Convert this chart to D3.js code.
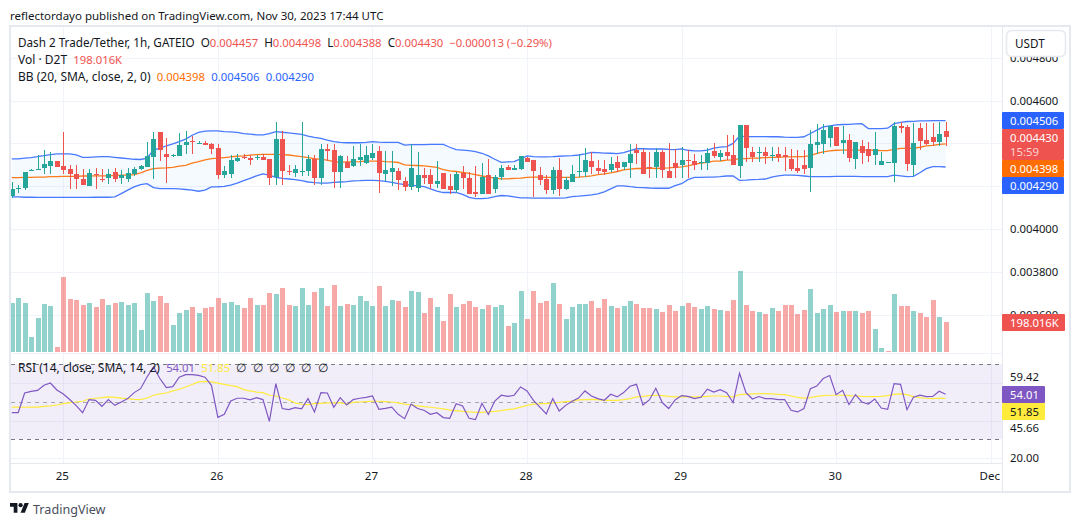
<!DOCTYPE html>
<html><head><meta charset="utf-8">
<script src="https://cdnjs.cloudflare.com/ajax/libs/d3/7.8.5/d3.min.js"></script>
<style>html,body{margin:0;padding:0;background:#fff;overflow:hidden}svg{display:block}text{font-family:"Noto Sans",sans-serif}</style>
</head><body><svg id="c" width="1080" height="527"></svg>
<script>
// prices are in millionths of USDT
const opens=[4154,4187,4191,4274,4278,4283,4295,4318,4295,4282,4258,4235,4203,4258,4235,4241,4268,4240,4235,4258,4282,4291,4337,4452,4351,4343,4342,4392,4411,4398,4402,4397,4378,4254,4258,4318,4337,4332,4332,4337,4328,4245,4420,4272,4263,4269,4272,4328,4240,4374,4369,4268,4314,4295,4323,4309,4332,4365,4258,4268,4272,4226,4198,4194,4254,4254,4212,4263,4203,4185,4263,4240,4175,4162,4254,4189,4245,4291,4277,4282,4332,4323,4254,4235,4185,4277,4189,4222,4269,4268,4318,4286,4282,4277,4314,4291,4309,4369,4360,4291,4291,4360,4272,4309,4300,4323,4318,4308,4309,4365,4337,4360,4346,4295,4485,4360,4354,4360,4343,4351,4346,4328,4286,4300,4286,4392,4397,4425,4475,4402,4415,4328,4388,4374,4346,4300,4311,4309,4480,4475,4300,4471,4415,4429,4406,4457];
const highs=[4222,4208,4268,4282,4346,4369,4360,4318,4452,4297,4300,4282,4282,4285,4280,4282,4285,4277,4286,4292,4300,4406,4452,4452,4425,4351,4448,4457,4434,4411,4411,4402,4397,4295,4346,4351,4351,4346,4346,4351,4328,4498,4457,4300,4300,4498,4346,4346,4397,4397,4397,4346,4342,4388,4397,4388,4397,4388,4365,4365,4286,4245,4397,4360,4286,4282,4318,4263,4258,4268,4295,4268,4295,4309,4328,4254,4300,4300,4300,4342,4337,4323,4291,4254,4291,4332,4245,4300,4351,4378,4360,4323,4323,4337,4342,4314,4397,4397,4374,4360,4378,4369,4402,4374,4383,4369,4351,4346,4378,4402,4369,4438,4438,4485,4485,4383,4383,4383,4383,4383,4383,4374,4369,4369,4462,4489,4489,4485,4475,4480,4443,4406,4415,4406,4452,4360,4314,4498,4498,4485,4494,4494,4494,4494,4498,4498];
const lows=[4145,4169,4185,4272,4278,4258,4258,4292,4258,4189,4189,4205,4203,4189,4222,4212,4219,4212,4222,4246,4277,4291,4235,4318,4217,4337,4342,4351,4351,4397,4392,4351,4235,4240,4240,4314,4328,4300,4323,4323,4208,4208,4208,4254,4245,4249,4249,4208,4208,4318,4194,4194,4286,4291,4295,4305,4323,4171,4226,4203,4185,4180,4185,4175,4212,4189,4194,4189,4166,4171,4189,4166,4152,4162,4162,4171,4231,4277,4277,4277,4314,4152,4208,4166,4166,4157,4185,4222,4245,4245,4258,4258,4254,4268,4268,4277,4240,4305,4258,4240,4240,4240,4240,4240,4240,4240,4277,4277,4277,4332,4318,4323,4300,4240,4314,4314,4314,4305,4318,4314,4272,4272,4263,4258,4175,4351,4351,4383,4388,4351,4314,4282,4305,4314,4300,4300,4311,4222,4448,4272,4249,4369,4392,4388,4388,4388];
const closes=[4188,4190,4268,4277,4282,4305,4318,4292,4277,4258,4235,4208,4263,4254,4231,4258,4235,4254,4263,4282,4295,4342,4420,4369,4337,4346,4392,4406,4408,4402,4392,4374,4254,4272,4323,4332,4332,4323,4337,4323,4240,4420,4272,4268,4282,4272,4328,4240,4374,4365,4268,4342,4286,4328,4337,4346,4355,4263,4277,4286,4231,4198,4286,4254,4240,4212,4226,4189,4185,4258,4240,4166,4162,4245,4166,4245,4286,4277,4286,4342,4314,4272,4231,4185,4277,4189,4231,4258,4272,4323,4291,4272,4268,4305,4286,4314,4351,4355,4258,4286,4360,4277,4240,4286,4323,4320,4300,4314,4355,4342,4355,4342,4300,4485,4378,4337,4360,4342,4346,4337,4335,4282,4272,4282,4397,4406,4462,4480,4388,4415,4332,4406,4355,4342,4374,4318,4314,4480,4471,4305,4402,4411,4397,4406,4443,4430];
// volume in thousands of D2T
const volumes=[322,355,322,100,224,316,302,35,492,348,342,309,322,296,348,309,322,329,309,322,146,387,335,368,322,178,257,276,296,257,289,296,355,322,329,309,289,355,309,309,387,381,420,309,302,420,309,394,420,302,440,302,316,309,368,335,302,433,302,342,335,296,400,394,257,355,296,205,381,296,316,335,296,283,309,296,309,172,191,400,218,400,322,335,453,316,218,296,316,316,335,289,348,302,289,302,335,316,289,289,283,263,309,270,302,322,296,283,302,283,276,270,342,531,309,270,263,250,289,270,309,309,250,276,413,257,283,309,263,270,270,270,257,270,152,28,9,381,302,302,270,257,231,342,231,198];
// the one hour whose volume bar is pink although its candle is green
const volumeDownHours=[136];
const bbUpper=[4328,4328,4331,4334,4338,4343,4348,4351,4351,4351,4346,4335,4335,4337,4338,4338,4335,4332,4329,4326,4325,4331,4369,4378,4389,4398,4408,4420,4438,4451,4457,4458,4458,4455,4454,4451,4446,4443,4440,4440,4446,4455,4452,4449,4446,4442,4434,4428,4423,4415,4408,4405,4403,4403,4403,4405,4408,4406,4405,4405,4405,4392,4394,4394,4394,4395,4395,4395,4382,4371,4369,4366,4362,4354,4342,4326,4312,4314,4315,4328,4342,4338,4337,4337,4338,4340,4342,4343,4346,4351,4358,4357,4355,4354,4352,4357,4366,4375,4375,4374,4374,4374,4372,4371,4374,4368,4365,4365,4369,4378,4383,4385,4400,4434,4432,4432,4432,4432,4431,4431,4429,4428,4428,4431,4446,4462,4477,4482,4486,4488,4489,4491,4492,4469,4469,4469,4471,4492,4498,4502,4503,4505,4505,4506,4506,4506];
const bbBasis=[4240,4240,4242,4242,4243,4243,4245,4245,4246,4246,4246,4248,4248,4249,4249,4249,4251,4252,4252,4254,4263,4274,4282,4285,4286,4288,4294,4298,4308,4315,4323,4329,4331,4334,4337,4340,4342,4345,4348,4349,4349,4349,4348,4346,4342,4338,4334,4329,4326,4322,4315,4312,4314,4314,4315,4317,4317,4317,4315,4314,4311,4300,4298,4297,4295,4292,4288,4278,4272,4269,4265,4260,4254,4248,4243,4238,4235,4235,4237,4238,4242,4243,4243,4242,4242,4242,4242,4242,4243,4245,4249,4254,4258,4263,4269,4277,4280,4283,4283,4285,4283,4285,4286,4288,4291,4295,4302,4308,4312,4317,4318,4322,4323,4329,4329,4331,4332,4334,4335,4335,4337,4337,4338,4338,4343,4354,4360,4365,4368,4369,4369,4369,4369,4369,4368,4366,4366,4372,4377,4377,4377,4382,4388,4391,4395,4398];
const bbLower=[4151,4151,4149,4149,4148,4148,4148,4148,4148,4148,4148,4148,4148,4149,4149,4149,4151,4166,4182,4197,4208,4212,4194,4189,4189,4189,4188,4185,4182,4177,4182,4197,4198,4200,4206,4215,4226,4237,4249,4258,4252,4242,4237,4234,4231,4226,4220,4217,4215,4215,4218,4220,4222,4225,4226,4228,4228,4226,4223,4218,4212,4208,4205,4202,4198,4188,4177,4171,4171,4172,4162,4148,4143,4143,4145,4152,4157,4155,4151,4146,4146,4145,4145,4145,4145,4145,4146,4152,4154,4157,4160,4165,4174,4188,4202,4202,4198,4195,4194,4192,4191,4191,4191,4203,4212,4231,4242,4242,4243,4243,4245,4248,4248,4228,4229,4231,4232,4234,4243,4249,4252,4252,4251,4248,4245,4245,4245,4245,4246,4246,4246,4246,4245,4245,4245,4245,4245,4252,4249,4245,4246,4263,4282,4292,4292,4290];
const rsi=[44.2,44.2,54.7,55.6,56.1,58.8,60.0,56.3,54.2,51.2,48.0,44.2,51.2,50.8,47.6,51.2,48.1,49.9,51.7,54.9,57.0,63.2,68.6,62.4,57.6,58.1,63.1,64.5,64.5,64.1,63.1,58.8,41.7,43.3,50.4,51.9,51.9,51.0,52.2,51.2,39.6,59.7,46.4,45.8,46.9,46.2,51.7,44.6,54.9,54.7,47.1,52.2,48.3,51.2,51.9,52.4,53.1,46.0,46.5,47.2,43.3,41.0,48.8,46.4,45.5,43.3,44.2,41.6,41.2,49.0,47.8,41.2,40.5,49.2,43.2,50.4,53.5,52.9,53.5,57.9,55.8,50.8,47.2,43.5,51.7,45.1,48.1,50.3,52.0,55.8,53.1,51.7,50.8,54.0,52.6,54.9,58.3,59.3,48.3,51.0,57.2,49.6,46.4,51.0,53.3,52.9,51.7,52.4,56.7,55.2,56.5,54.9,49.6,65.2,54.9,51.5,52.8,51.7,51.7,51.2,51.2,45.5,44.6,46.4,57.0,58.4,62.4,64.0,53.8,56.1,48.5,53.8,49.9,48.8,51.5,46.7,46.0,59.7,59.3,45.8,52.4,53.5,52.8,52.9,55.6,54.01];
const rsiMA=[47.2,47.2,47.1,47.2,47.2,47.6,47.8,48.3,49.0,49.6,49.9,50.3,51.5,51.9,52.2,52.6,52.4,52.0,51.7,51.3,51.2,52.0,53.5,54.2,54.7,55.8,56.7,57.9,59.2,60.6,60.9,60.6,60.0,59.3,58.6,58.1,56.5,55.8,55.2,54.9,53.5,53.1,52.0,51.0,49.4,48.7,48.5,49.0,49.2,49.4,49.4,49.6,48.7,49.7,49.9,50.1,50.3,50.3,50.1,49.9,49.4,48.8,48.3,47.8,47.4,47.1,46.7,46.2,45.6,45.3,44.9,44.6,44.4,44.4,44.6,44.9,45.3,45.8,46.2,47.2,48.1,48.8,49.0,49.0,49.4,49.7,50.1,50.4,51.0,51.2,51.3,51.2,50.8,50.8,50.8,51.2,51.7,52.6,52.9,53.3,53.5,53.3,52.9,52.6,52.6,52.6,52.6,52.6,52.9,53.1,53.1,52.8,52.6,53.8,54.0,54.2,54.4,54.4,54.2,54.0,53.8,53.1,52.4,52.0,52.2,52.9,53.3,53.5,53.5,53.5,53.3,53.1,52.9,52.8,52.8,52.9,53.3,54.0,54.2,53.8,52.8,52.2,51.9,51.7,51.9,51.85];
const priceTicks=[4800,4600,4400,4200,4000,3800,3600];
const priceTickLabels=[4800,4600,4000,3800,3600];
const dayTicks=[new Date(Date.UTC(2023,10,25)),new Date(Date.UTC(2023,10,26)),new Date(Date.UTC(2023,10,27)),new Date(Date.UTC(2023,10,28)),new Date(Date.UTC(2023,10,29)),new Date(Date.UTC(2023,10,30)),new Date(Date.UTC(2023,11,1))];
const dayLabels=["25","26","27","28","29","30","Dec"];
const rsiGrid=[60,40,20];
const rsiTickPos=[63.2,36,20];
const rsiTickText=["59.42","45.66","20.00"];

const UP="#26a69a",DOWN="#ef5350",TXT="#131722",GRID="#f0f3fa",FRAME="#e6e8ef";
const FONT='"Noto Sans",sans-serif';
const NUM=11.3;
const svg=d3.select("#c");
const hours=opens.map((_,i)=>new Date(Date.UTC(2023,10,24,16+i)));

const L=11,R=1002,T=27,B=463.5;
const x=d3.scaleUtc().domain([dayTicks[0],dayTicks[6]]).range([63.3,990.7]);
const y=d3.scaleLinear().domain([4400,3600]).range([143.4,315]);
const yVol=d3.scaleLinear().domain([0,1000]).range([352.3,199.1]);
const yRsi=d3.scaleLinear().domain([30,70]).range([439.3,364.3]);
const px=i=>Math.round(x(hours[i]))+0.5;

// grid
const grid=svg.append("g").attr("shape-rendering","crispEdges").attr("stroke",GRID).attr("stroke-width",1);
grid.selectAll("line.v").data(dayTicks).join("line").attr("x1",d=>Math.round(x(d))+.5).attr("x2",d=>Math.round(x(d))+.5).attr("y1",T).attr("y2",B);
grid.selectAll("line.p").data(priceTicks).join("line").attr("class","p").attr("x1",L).attr("x2",R).attr("y1",d=>Math.round(y(d))+.5).attr("y2",d=>Math.round(y(d))+.5);
grid.selectAll("line.r").data(rsiGrid).join("line").attr("class","r").attr("x1",L).attr("x2",R).attr("y1",d=>Math.round(yRsi(d))+.5).attr("y2",d=>Math.round(yRsi(d))+.5);

// volume
const isUp=i=>closes[i]>=opens[i];
svg.append("g").attr("shape-rendering","crispEdges").selectAll("rect").data(volumes).join("rect")
 .attr("x",(d,i)=>px(i)-2.5).attr("width",5).attr("y",d=>yVol(d)).attr("height",d=>yVol(0)-yVol(d))
 .attr("fill",(d,i)=>(isUp(i)&&!volumeDownHours.includes(i))?UP:DOWN).attr("fill-opacity",.5);

// Bollinger
const lineB=a=>d3.line().x((_,i)=>x(hours[i])).y(d=>y(d))(a);
svg.append("path").attr("d",d3.area().x((_,i)=>x(hours[i])).y0((_,i)=>y(bbLower[i])).y1(d=>y(d))(bbUpper)).attr("fill","#2196f3").attr("fill-opacity",.05);
svg.append("path").attr("d",lineB(bbUpper)).attr("fill","none").attr("stroke","#2962ff").attr("stroke-width",1.3).attr("stroke-opacity",.85);
svg.append("path").attr("d",lineB(bbLower)).attr("fill","none").attr("stroke","#2962ff").attr("stroke-width",1.3).attr("stroke-opacity",.85);
svg.append("path").attr("d",lineB(bbBasis)).attr("fill","none").attr("stroke","#ff6d00").attr("stroke-width",1.3).attr("stroke-opacity",.9);

// candles
const cg=svg.append("g").attr("shape-rendering","crispEdges");
cg.selectAll("line").data(opens).join("line")
 .attr("x1",(d,i)=>px(i)).attr("x2",(d,i)=>px(i)).attr("y1",(d,i)=>y(highs[i])).attr("y2",(d,i)=>y(lows[i]))
 .attr("stroke",(d,i)=>isUp(i)?UP:DOWN);
cg.selectAll("rect").data(opens).join("rect")
 .attr("x",(d,i)=>px(i)-2.5).attr("width",5)
 .attr("y",(d,i)=>y(Math.max(opens[i],closes[i])))
 .attr("height",(d,i)=>Math.max(1,Math.abs(y(opens[i])-y(closes[i]))))
 .attr("fill",(d,i)=>isUp(i)?UP:DOWN);

// RSI
svg.append("rect").attr("x",L).attr("width",R-L).attr("y",yRsi(70)).attr("height",yRsi(30)-yRsi(70)).attr("fill","#7e57c2").attr("fill-opacity",.1);
[[70,"#787b86"],[30,"#787b86"],[50,"#a5a7b0"]].forEach(([v,c])=>svg.append("line").attr("x1",L).attr("x2",R).attr("y1",Math.round(yRsi(v))+.5).attr("y2",Math.round(yRsi(v))+.5).attr("stroke",c).attr("stroke-dasharray","4 4").attr("shape-rendering","crispEdges"));
const lineR=d3.line().x((_,i)=>x(hours[i])).y(d=>yRsi(d));
svg.append("path").attr("d",lineR(rsiMA)).attr("fill","none").attr("stroke","#ffeb3b").attr("stroke-width",1.2);
svg.append("path").attr("d",lineR(rsi)).attr("fill","none").attr("stroke","#7e57c2").attr("stroke-width",1.2);

// frame
const fr=svg.append("g").attr("fill","none").attr("stroke",FRAME).attr("shape-rendering","crispEdges");
fr.append("rect").attr("x",10).attr("y",26).attr("width",1060).attr("height",466).attr("stroke-width",2);
fr.append("line").attr("x1",1002.5).attr("x2",1002.5).attr("y1",26).attr("y2",492).attr("stroke-width",1.5);
fr.append("line").attr("x1",10).attr("x2",1002).attr("y1",463.5).attr("y2",463.5).attr("stroke-width",1.5);
fr.append("line").attr("x1",10).attr("x2",1002).attr("y1",353.5).attr("y2",353.5).attr("stroke",GRID);

// axes
const pfmt=v=>d3.format(".6f")(v/1e6);
const pAxis=d3.axisRight(y).tickValues(priceTickLabels).tickSize(0).tickPadding(0).tickFormat(pfmt);
const pg=svg.append("g").attr("transform","translate(1010,0)").call(pAxis);
pg.select(".domain").remove();pg.selectAll("text").attr("font-family",FONT).attr("font-size",NUM).attr("fill",TXT);
const rAxis=d3.axisRight(yRsi).tickValues(rsiTickPos).tickSize(0).tickPadding(0).tickFormat((d,i)=>rsiTickText[i]);
const rg=svg.append("g").attr("transform","translate(1010,0)").call(rAxis);
rg.select(".domain").remove();rg.selectAll("text").attr("font-family",FONT).attr("font-size",NUM).attr("fill",TXT);
const tAxis=d3.axisBottom(x).tickValues(dayTicks).tickSize(0).tickPadding(0).tickFormat((d,i)=>dayLabels[i]);
const tg=svg.append("g").attr("transform","translate(-1.5,472)").call(tAxis);
tg.select(".domain").remove();tg.selectAll("text").attr("font-family",FONT).attr("font-size",NUM+.2).attr("fill",TXT);

// price labels
function badge(yTop,h,w,fill,color,val,extra){
 svg.append("rect").attr("x",1002).attr("y",yTop).attr("width",w).attr("height",h).attr("rx",1).attr("fill",fill);
 svg.append("text").attr("x",1010).attr("y",yTop+13).attr("font-size",NUM).attr("fill",color).text(val);
 if(extra)svg.append("text").attr("x",1010).attr("y",yTop+27).attr("font-size",NUM).attr("fill",color).attr("fill-opacity",.75).text(extra);
}
const last=opens.length-1;
badge(112,17,62,"#2962ff","#fff",pfmt(bbUpper[last]));
badge(129,31,62,DOWN,"#fff",pfmt(closes[last]),"15:59");
badge(160,17,62,"#ff6d00","#fff",pfmt(bbBasis[last]));
badge(177,17,62,"#2962ff","#fff",pfmt(bbLower[last]));
badge(314,17,63,DOWN,"#fff",d3.format(".3f")(198.016)+"K");
badge(386,17,43,"#7e57c2","#fff",rsi[last].toFixed(2));
badge(403,17,43,"#ffeb3b",TXT,rsiMA[last].toFixed(2));

// currency button
svg.append("rect").attr("x",1006.5).attr("y",30.5).attr("width",59).attr("height",26).attr("rx",5).attr("fill","#fff").attr("stroke","#e6e8ef").attr("stroke-width",1.5);
svg.append("text").attr("x",1015).attr("y",48).attr("font-size",11.7).attr("fill",TXT).text("USDT");

// texts
function row(xp,yp,parts){
 const t=svg.append("text").attr("x",xp).attr("y",yp).attr("font-size",12).attr("xml:space","preserve").style("white-space","pre");
 parts.forEach(([s,c,fs])=>t.append("tspan").attr("fill",c).attr("font-size",fs||12).text(s));
}
row(10,20,[["reflectordayo published on TradingView.com, Nov 30, 2023 17:44 UTC","#131722",11.5]]);
row(18,47,[["Dash 2 Trade/Tether, 1h, GATEIO  O",TXT,11.7],["0.004457",DOWN,NUM],["  H",TXT,11.7],["0.004498",DOWN,NUM],["  L",TXT,11.7],["0.004388",DOWN,NUM],["  C",TXT,11.7],["0.004430",DOWN,NUM],["  −0.000013 (−0.29%)",DOWN,NUM]]);
row(18,64,[["Vol · D2T  ",TXT],["198.016K",DOWN,NUM]]);
row(18,81,[["BB (20, SMA, close, 2, 0)  ",TXT],["0.004398","#ff6d00",NUM],["  ",TXT],["0.004506","#2962ff",NUM],["  ",TXT],["0.004290","#2962ff",NUM]]);
row(18,372,[["RSI (14, close, SMA, 14, 2)  ",TXT],["54.01","#7e57c2",NUM],["  ",TXT],["51.85","#ffeb3b",NUM],["  ∅  ∅  ∅  ∅  ∅  ∅",TXT]]);

// logo
const lg=svg.append("g").attr("transform","translate(10,501) scale(.53)").attr("fill","#131722");
lg.append("path").attr("d","M14 22H7V11H0V4h14v18zM28 22h-8l7.5-18h8L28 22z");
lg.append("circle").attr("cx",20).attr("cy",8).attr("r",4);
svg.append("text").attr("x",33).attr("y",514).attr("font-size",12.6).attr("fill","#4a4e5c").text("TradingView");
</script></body></html>
